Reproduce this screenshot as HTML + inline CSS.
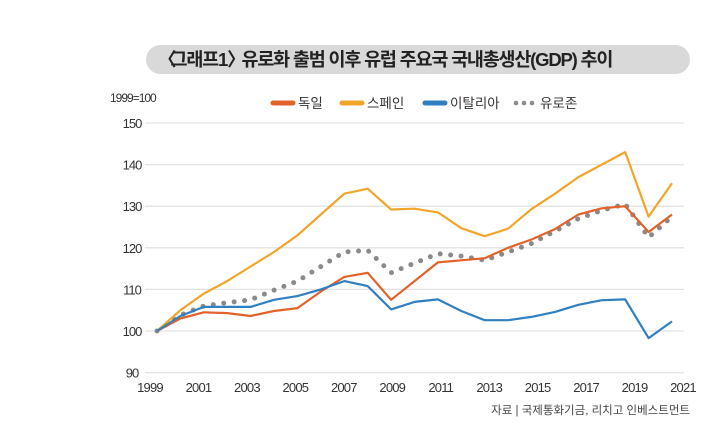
<!DOCTYPE html>
<html><head><meta charset="utf-8">
<style>
body{margin:0;background:#fff;}
#wrap{position:relative;width:703px;height:430px;overflow:hidden;font-family:"Liberation Sans","Noto Sans CJK KR",sans-serif;}
#title{position:absolute;left:146px;top:45px;width:544px;height:29px;background:#d9d9d9;border-radius:15px;font-weight:bold;font-size:18.5px;line-height:29px;color:#222;padding-left:12px;box-sizing:border-box;letter-spacing:-1.2px;white-space:nowrap}
svg{position:absolute;left:0;top:0}
</style></head><body>
<div id="wrap">
<div id="title"><span style="letter-spacing:-6px">〈</span>그래프1<span style="letter-spacing:-8px">〉</span> 유로화 출범 이후 유럽 주요국 국내총생산(GDP) 추이</div>
<svg id="svg" width="703" height="430"></svg>
</div>
<script>
const years=[1999,2000,2001,2002,2003,2004,2005,2006,2007,2008,2009,2010,2011,2012,2013,2014,2015,2016,2017,2018,2019,2020,2021];
const spain=[100,105,109,112,115.5,119,123,128,133,134.2,129.2,129.4,128.5,124.7,122.8,124.6,129.3,133,137,140,143,127.5,135.5];
const germany=[100,103,104.5,104.3,103.6,104.8,105.5,109.5,113,114,107.5,112,116.5,117,117.5,120,122,124.5,128,129.5,130,123.8,128];
const italy=[100,103.6,105.8,105.8,105.8,107.5,108.4,110,112,110.8,105.2,107,107.6,104.8,102.6,102.6,103.4,104.6,106.3,107.4,107.6,98.3,102.3];
const eurozone=[100,103.8,106,106.8,107.5,109.8,112,115.5,119,119.4,114,116.3,118.6,118,117,119,121,124,127,129,130.5,122.5,127.5];
const yTicks=[90,100,110,120,130,140,150];
const xTicks=[1999,2001,2003,2005,2007,2009,2011,2013,2015,2017,2019,2021];
const NS='http://www.w3.org/2000/svg';
const svg=document.getElementById('svg');
const x=v=>157+(v-1999)*(515/22);
const xl=v=>150+(v-1999)*(533/22);
const y=v=>331-(v-100)*4.16;
function mk(t,a){const e=document.createElementNS(NS,t);for(const k in a)e.setAttribute(k,a[k]);svg.appendChild(e);return e;}
yTicks.forEach(t=>{
 const g=mk('line',{x1:145,x2:684,y1:y(t),y2:y(t),stroke:'#e3e3e3','stroke-width':1.3});
 
 
 const l=mk('text',{x:132,y:y(t)+5,'text-anchor':'middle','font-size':13,fill:'#333','letter-spacing':'-1'});
 l.textContent=t;
 
 
});
xTicks.forEach(t=>{
 const l=mk('text',{x:xl(t),y:392,'text-anchor':'middle','font-size':13,fill:'#333','letter-spacing':'-0.8'});
 l.textContent=t;
 
 
});
const u=mk('text',{x:110,y:102,'font-size':12,fill:'#333','letter-spacing':'-1'});u.textContent='1999=100';


const src=mk('text',{x:690,y:414,'text-anchor':'end','font-size':11.5,fill:'#444'});src.textContent='자료 | 국제통화기금, 리치고 인베스트먼트';


function pts(arr){return arr.map((v,i)=>x(years[i]).toFixed(1)+','+y(v).toFixed(1)).join(' ');}
const series=[[spain,'#f2a52b','spain'],[germany,'#e2632a','germany'],[italy,'#2f7fc1','italy']];
const ez=mk('polyline',{points:pts(eurozone),fill:'none',stroke:'#8a8a8a','stroke-width':5,'stroke-linecap':'round','stroke-dasharray':'0 10.5'});


series.forEach(s=>{
 const p=mk('polyline',{points:pts(s[0]),fill:'none',stroke:s[1],'stroke-width':2.2,'stroke-linejoin':'round'});
 
 
});
const leg=[['독일','#e2632a',273],['스페인','#f2a52b',342],['이탈리아','#2f7fc1',425]];
leg.forEach(l=>{
 const r=mk('line',{x1:l[2],x2:l[2]+20,y1:103,y2:103,stroke:l[1],'stroke-width':5,'stroke-linecap':'round'});
 
 
 const t=mk('text',{x:l[2]+25,y:108,'font-size':13.5,fill:'#333'});t.textContent=l[0];
 
 
});
[0,1,2].forEach(i=>{const c=mk('circle',{cx:516+i*8,cy:103,r:2.3,fill:'#8a8a8a'});
 
 });
const te=mk('text',{x:540,y:108,'font-size':13.5,fill:'#333'});te.textContent='유로존';


</script>
</body></html>
